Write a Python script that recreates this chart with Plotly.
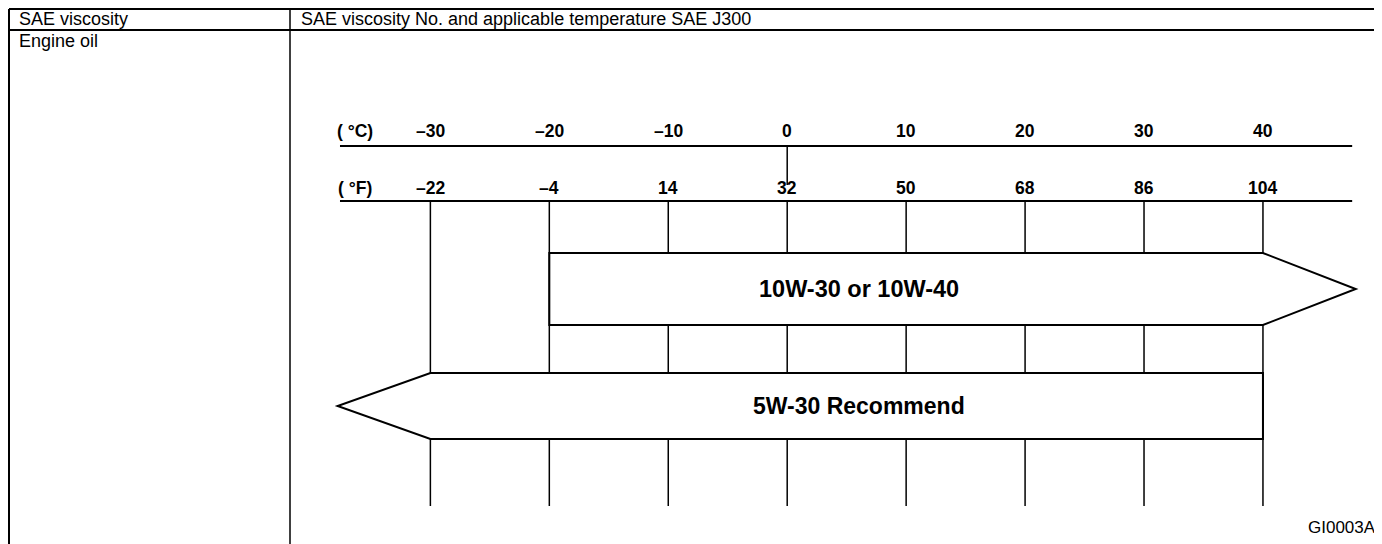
import plotly.graph_objects as go

# ---------------- data ----------------
celsius_ticks = [-30, -20, -10, 0, 10, 20, 30, 40]
fahrenheit_ticks = [-22, -4, 14, 32, 50, 68, 86, 104]
celsius_labels = ["–30", "–20", "–10", "0", "10", "20", "30", "40"]
fahrenheit_labels = ["–22", "–4", "14", "32", "50", "68", "86", "104"]
grade_names = ["10W-30 or 10W-40", "5W-30 Recommend"]
grade_low_c = [-20, -30]
grade_high_c = [40, 40]
grade_open_side = ["right", "left"]
header_left = "SAE viscosity"
header_right = "SAE viscosity No. and applicable temperature SAE J300"
row_label = "Engine oil"
figure_code = "GI0003A"

# ---------------- layout constants ----------------
WIN_W, WIN_H = 1382, 544
BODY = 8                      # browser default body margin
W, H = WIN_W - BODY, WIN_H - BODY
PX_PER_C = 11.894
X0_PX = 787.2                 # window pixel of 0 degC
x_range = [(BODY - X0_PX) / PX_PER_C, (WIN_W - X0_PX) / PX_PER_C]

FONT = "Liberation Sans, Arial, Helvetica, sans-serif"
BLACK = "#000000"

axis_c_y, axis_f_y = 146, 201
label_c_y, label_f_y = 131, 188
axis_extent = (-37.6, 47.5)
unit_label_x = -36.3
zero_tick_bottom = 185
grid_bottom = 506
arrow_rows = [(253, 325), (373, 439)]
tip_len = 7.8
label_x = 6.0
label_sizes = [23.5, 23]


def pxp(x):
    return (x - BODY) / W


fig = go.Figure()
fig.add_trace(go.Scatter(x=[None], y=[None], showlegend=False, hoverinfo="skip"))

shapes = []
annotations = []

# ---- table frame ----
tbl_left, tbl_top, tbl_row, tbl_div = 9, 9, 30, 290
shapes += [
    dict(type="line", xref="paper", yref="y", x0=pxp(tbl_left), x1=1, y0=tbl_top, y1=tbl_top,
         line=dict(color=BLACK, width=2)),
    dict(type="line", xref="paper", yref="y", x0=pxp(tbl_left), x1=1, y0=tbl_row, y1=tbl_row,
         line=dict(color=BLACK, width=2)),
    dict(type="line", xref="paper", yref="y", x0=pxp(tbl_left), x1=pxp(tbl_left), y0=tbl_top,
         y1=WIN_H, line=dict(color=BLACK, width=2)),
    dict(type="line", xref="paper", yref="y", x0=pxp(tbl_div), x1=pxp(tbl_div), y0=tbl_top,
         y1=WIN_H, line=dict(color=BLACK, width=1.5)),
]
for txt, x, y in [(header_left, 17, 19), (header_right, 299, 19), (row_label, 17, 41)]:
    annotations.append(dict(text=txt, xref="paper", yref="y", x=pxp(x), y=y, xanchor="left",
                            yanchor="middle", showarrow=False,
                            font=dict(family=FONT, size=18, color=BLACK)))
annotations.append(dict(text=figure_code, xref="paper", yref="y", x=pxp(1378), y=527,
                        xanchor="right", yanchor="middle", showarrow=False,
                        font=dict(family=FONT, size=17, color=BLACK)))

# ---- temperature scales ----
for yy in (axis_c_y, axis_f_y):
    shapes.append(dict(type="line", xref="x", yref="y", x0=axis_extent[0], x1=axis_extent[1],
                       y0=yy, y1=yy, line=dict(color=BLACK, width=2)))
shapes.append(dict(type="line", xref="x", yref="y", x0=0, x1=0, y0=axis_c_y, y1=zero_tick_bottom,
                   line=dict(color=BLACK, width=1.5)))

tick_font = dict(family=FONT, size=17.5, color=BLACK, weight="bold")
for c, lab in zip(celsius_ticks, celsius_labels):
    annotations.append(dict(text=lab, x=c, y=label_c_y, xref="x", yref="y", showarrow=False,
                            xanchor="center", yanchor="middle", font=tick_font))
for f, lab in zip(fahrenheit_ticks, fahrenheit_labels):
    c = (f - 32) * 5 / 9
    annotations.append(dict(text=lab, x=c, y=label_f_y, xref="x", yref="y", showarrow=False,
                            xanchor="center", yanchor="middle", font=tick_font))
for txt, yy in [("( °C)", label_c_y), ("( °F)", label_f_y)]:
    annotations.append(dict(text=txt, x=unit_label_x, y=yy, xref="x", yref="y", showarrow=False,
                            xanchor="center", yanchor="middle", font=tick_font))

# ---- vertical grid lines (drawn first, arrows cover them) ----
for f in fahrenheit_ticks:
    c = (f - 32) * 5 / 9
    shapes.append(dict(type="line", xref="x", yref="y", x0=c, x1=c, y0=axis_f_y, y1=grid_bottom,
                       line=dict(color=BLACK, width=1.5)))

# ---- grade arrows ----
for name, lo, hi, side, (top, bot), fs in zip(grade_names, grade_low_c, grade_high_c,
                                              grade_open_side, arrow_rows, label_sizes):
    mid = (top + bot) / 2
    if side == "right":
        path = (f"M {lo},{top} L {hi},{top} L {hi + tip_len},{mid} L {hi},{bot} "
                f"L {lo},{bot} Z")
    else:
        path = (f"M {lo},{top} L {hi},{top} L {hi},{bot} L {lo},{bot} "
                f"L {lo - tip_len},{mid} Z")
    shapes.append(dict(type="path", xref="x", yref="y", path=path, fillcolor="white",
                       line=dict(color=BLACK, width=2), layer="above"))
    annotations.append(dict(text=name, x=label_x, y=mid, xref="x", yref="y", showarrow=False,
                            xanchor="center", yanchor="middle",
                            font=dict(family=FONT, size=fs, color=BLACK, weight="bold")))

fig.update_layout(
    width=W, height=H, autosize=False,
    margin=dict(l=0, r=0, t=0, b=0, pad=0),
    paper_bgcolor="white", plot_bgcolor="white",
    xaxis=dict(range=x_range, visible=False, fixedrange=True, domain=[0, 1]),
    yaxis=dict(range=[WIN_H, BODY], visible=False, fixedrange=True, domain=[0, 1]),
    shapes=shapes, annotations=annotations, showlegend=False,
)

fig.write_html("out.html")
